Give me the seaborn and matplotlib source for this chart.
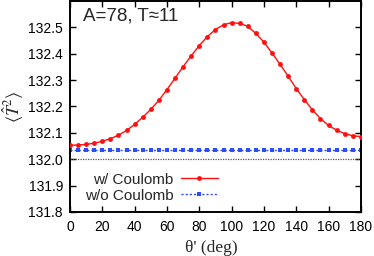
import numpy as np
import pandas as pd
import matplotlib
matplotlib.use("Agg")
import matplotlib.pyplot as plt
import seaborn as sns

theta = list(range(0, 181, 5))
with_coulomb = [132.053, 132.054, 132.056, 132.061, 132.068, 132.078, 132.091, 132.109,
                132.132, 132.159, 132.189, 132.223, 132.264, 132.307, 132.351, 132.392,
                132.431, 132.465, 132.492, 132.510, 132.518, 132.515, 132.504, 132.477,
                132.444, 132.403, 132.360, 132.315, 132.268, 132.226, 132.187, 132.154,
                132.128, 132.110, 132.097, 132.089, 132.086]
without_coulomb = [132.036] * len(theta)
reference_level = 132.0
xticks = list(range(0, 181, 20))
yticks = [131.8, 131.9, 132.0, 132.1, 132.2, 132.3, 132.4, 132.5]

sns.set_theme(style="ticks")
plt.rcParams['font.family'] = ['Liberation Sans', 'DejaVu Sans']
plt.rcParams['mathtext.fontset'] = 'stix'

fig = plt.figure(figsize=(3.74, 2.56), dpi=100)
ax = fig.add_axes([0.187, 0.172, 0.778, 0.824])

df = pd.DataFrame({"theta": theta, "w": with_coulomb, "wo": without_coulomb})

ax.axhline(reference_level, color="#555555", lw=0.9, ls=(0, (1, 1)), zorder=1)
sns.lineplot(data=df, x="theta", y="wo", ax=ax, color="#2b4cff", lw=1.0,
             ls=(0, (1.5, 1.5)), marker="s", markersize=3.5, markeredgewidth=0,
             label="w/o Coulomb", zorder=2)
sns.lineplot(data=df, x="theta", y="w", ax=ax, color="#ff1010", lw=1.0,
             marker="o", markersize=3.5, markeredgewidth=0,
             label="w/ Coulomb", zorder=3)

ax.set_xlim(0, 180)
ax.set_ylim(131.8, 132.6)
ax.set_xticks(xticks)
ax.set_yticks(yticks)
ax.set_yticklabels([f"{v:.1f}" for v in yticks])
ax.tick_params(direction="in", top=True, right=True, length=4, width=1.0,
               labelsize=10, colors="black")
ax.tick_params(axis="x", pad=6)
ax.tick_params(axis="y", pad=5)
for s in ax.spines.values():
    s.set_linewidth(1.4)
    s.set_color("black")

ax.set_xlabel("θ' (deg)", family="Liberation Serif", fontsize=12.5, labelpad=1)
ax.xaxis.set_label_coords(0.485, -0.135)
ax.set_ylabel(r"$\langle \hat{T}^2 \rangle$", fontsize=13)
ax.yaxis.set_label_coords(-0.15, 0.5)

ax.text(0.045, 0.93, "A=78, T≈11", transform=ax.transAxes, fontsize=13.5,
        ha="left", va="center")

handles, labels = ax.get_legend_handles_labels()
order = [labels.index("w/ Coulomb"), labels.index("w/o Coulomb")]
leg = ax.legend([handles[i] for i in order], [labels[i] for i in order],
                loc="upper left", bbox_to_anchor=(0.03, 0.215), frameon=False,
                fontsize=11, markerfirst=False, handlelength=2.4,
                handletextpad=0.5, labelspacing=0.12, borderaxespad=0)

fig.savefig("out.png", dpi=100)
